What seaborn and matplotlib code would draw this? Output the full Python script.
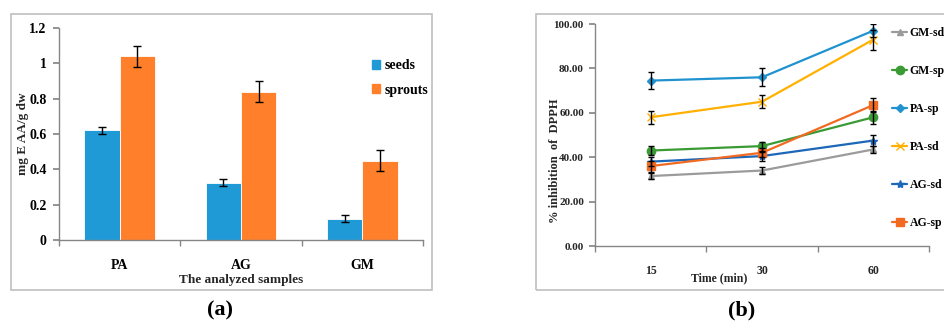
import numpy as np
import pandas as pd
import matplotlib
matplotlib.use("Agg")
import matplotlib.pyplot as plt
import seaborn as sns
from matplotlib.patches import Rectangle
from matplotlib.lines import Line2D

# ---------------- data ----------------
samples = ["PA", "AG", "GM"]
seeds = [0.62, 0.325, 0.12]
seeds_err = [0.02, 0.02, 0.02]
sprouts = [1.04, 0.84, 0.45]
sprouts_err = [0.06, 0.06, 0.06]

times = ["15", "30", "60"]
series_names = ["GM-sd", "GM-sp", "PA-sp", "PA-sd", "AG-sd", "AG-sp"]
gm_sd = [31.5, 34.0, 43.5]
gm_sd_err = [1.5, 1.5, 1.5]
gm_sp = [43.0, 45.0, 58.0]
gm_sp_err = [2.0, 2.0, 3.0]
pa_sp = [74.5, 76.0, 97.0]
pa_sp_err = [4.0, 4.0, 3.0]
pa_sd = [58.0, 65.0, 93.0]
pa_sd_err = [3.0, 3.0, 4.5]
ag_sd = [38.0, 40.5, 47.5]
ag_sd_err = [2.0, 2.0, 2.5]
ag_sp = [36.0, 42.0, 63.5]
ag_sp_err = [2.5, 2.0, 3.0]

sns.set_theme(style="white")
plt.rcParams["font.family"] = ["Liberation Serif", "DejaVu Serif"]
plt.rcParams["font.weight"] = "bold"
plt.rcParams["text.color"] = "black"

W, H = 944, 322
fig = plt.figure(figsize=(W / 100, H / 100), dpi=100)

def fx(px):
    return px / W

def fy(py):
    return 1 - py / H

# panel borders
fig.patches.append(Rectangle((fx(11), fy(290)), fx(421), (290 - 14) / H,
                             transform=fig.transFigure, fill=False,
                             edgecolor="#BFBFBF", lw=1.2))
fig.patches.append(Rectangle((fx(536), fy(290)), fx(420), (290 - 14) / H,
                             transform=fig.transFigure, fill=False,
                             edgecolor="#BFBFBF", lw=1.2))

axis_col = "#868686"
tick_kw = dict(fontsize=10, fontweight="bold", color="black")

# ---------------- panel (a) ----------------
ax1 = fig.add_axes([fx(59), fy(240), fx(423 - 59), (240 - 28) / H])
df_a = pd.DataFrame({
    "sample": samples * 2,
    "value": seeds + sprouts,
    "type": ["seeds"] * 3 + ["sprouts"] * 3,
})
c_seed = "#1F9AD7"
c_sprout = "#FF7F2A"
sns.barplot(data=df_a, x="sample", y="value", hue="type", ax=ax1,
            palette=[c_seed, c_sprout], width=0.58, errorbar=None,
            saturation=1, edgecolor="white", linewidth=0.6, legend=False)
bars = [p for p in ax1.patches if p.get_height() > 0][:6]
errs = seeds_err + sprouts_err
vals = seeds + sprouts
centers = [b.get_x() + b.get_width() / 2 for b in bars]
ax1.errorbar(centers, vals, yerr=errs, fmt="none", ecolor="black",
             elinewidth=1.0, capsize=3, capthick=1.0)
ax1.set_ylim(0, 1.2)
ax1.set_xlim(-0.5, 2.5)
ax1.set_yticks([0, 0.2, 0.4, 0.6, 0.8, 1.0, 1.2])
ax1.set_yticklabels(["0", "0.2", "0.4", "0.6", "0.8", "1", "1.2"], **tick_kw)
ax1.set_xticks([0, 1, 2])
ax1.set_xticklabels(samples, **tick_kw)
ax1.set_xticks([-0.5, 0.5, 1.5, 2.5], minor=True)
ax1.tick_params(axis="x", which="major", length=0, pad=14)
ax1.tick_params(axis="x", which="minor", length=4, color=axis_col, direction="out", bottom=True)
ax1.tick_params(axis="y", length=4, color=axis_col, direction="out", left=True, pad=5)
for s in ["top", "right"]:
    ax1.spines[s].set_visible(False)
for s in ["left", "bottom"]:
    ax1.spines[s].set_color(axis_col)
    ax1.spines[s].set_linewidth(1.0)
ax1.set_xlabel("The analyzed samples", fontsize=9.5, fontweight="bold", labelpad=1)
ax1.set_ylabel("mg E AA/g dw", fontsize=9.5, fontweight="bold")
ax1.yaxis.set_label_coords((29 - 59) / 364, 0.5)
handles_a = [Rectangle((0, 0), 1, 1, color=c_seed), Rectangle((0, 0), 1, 1, color=c_sprout)]
ax1.legend(handles_a, ["seeds", "sprouts"], loc="upper left",
           bbox_to_anchor=((372 - 59) / 364, (240 - 59) / 212), frameon=False,
           handlelength=0.6, handleheight=0.6, handletextpad=0.3,
           labelspacing=0.85, borderpad=0, borderaxespad=0,
           prop={"size": 10, "weight": "bold"})

# ---------------- panel (b) ----------------
ax2 = fig.add_axes([fx(595), fy(246), fx(929 - 595), (246 - 24) / H])
all_vals = [gm_sd, gm_sp, pa_sp, pa_sd, ag_sd, ag_sp]
all_errs = [gm_sd_err, gm_sp_err, pa_sp_err, pa_sd_err, ag_sd_err, ag_sp_err]
colors = ["#9B9B9B", "#3A9B35", "#1F92CF", "#FFB000", "#1C67B8", "#F26A21"]
markers = ["^", "o", "D", "x", "*", "s"]
msizes = [5, 6, 4.5, 6, 6, 6]
for name, v, c, m, ms in zip(series_names, all_vals, colors, markers, msizes):
    d = pd.DataFrame({"time": times, "value": v})
    sns.lineplot(data=d, x="time", y="value", color=c, marker=m,
                 markersize=ms, markeredgewidth=1.0, markeredgecolor=c,
                 linewidth=1.6, ax=ax2, sort=False, errorbar=None)
xpos = np.arange(len(times))
for v, e in zip(all_vals, all_errs):
    ax2.errorbar(xpos, v, yerr=e, fmt="none", ecolor="black",
                 elinewidth=1.0, capsize=2.5, capthick=1.0, zorder=5)
ax2.set_xlim(-0.5, 2.5)
ax2.set_ylim(0, 100)
ax2.set_yticks([0, 20, 40, 60, 80, 100])
ax2.set_yticklabels([f"{t:.2f}" for t in [0, 20, 40, 60, 80, 100]],
                    fontsize=8, fontweight="bold")
ax2.set_xticks([0, 1, 2])
ax2.set_xticklabels(times, fontsize=8.5, fontweight="bold")
ax2.set_xticks([-0.5, 0.5, 1.5, 2.5], minor=True)
ax2.tick_params(axis="x", which="major", length=0, pad=14)
ax2.tick_params(axis="x", which="minor", length=4, color=axis_col, direction="out", bottom=True)
ax2.tick_params(axis="y", length=4, color=axis_col, direction="out", left=True, pad=4)
for s in ["top", "right"]:
    ax2.spines[s].set_visible(False)
for s in ["left", "bottom"]:
    ax2.spines[s].set_color(axis_col)
    ax2.spines[s].set_linewidth(1.0)
ax2.set_xlabel("Time (min)", fontsize=8.5, fontweight="bold")
ax2.xaxis.set_label_coords((719 - 595) / 334, (246 - 272) / 222)
ax2.set_ylabel("% inhibition  of  DPPH", fontsize=9, fontweight="bold")
ax2.yaxis.set_label_coords((561 - 595) / 334, (246 - 161) / 222)
handles_b = [Line2D([0], [0], color=c, marker=m, lw=1.6, markersize=ms,
                    markeredgecolor=c)
             for c, m, ms in zip(colors, markers, msizes)]
ax2.legend(handles_b, series_names, loc="upper left",
           bbox_to_anchor=((892 - 595) / 334, (246 - 27.5) / 222), frameon=False,
           handlelength=1.3, handletextpad=0.2, labelspacing=2.2,
           borderpad=0, borderaxespad=0,
           prop={"size": 8.5, "weight": "bold"})

# panel letters
fig.text(fx(220), fy(310), "(a)", ha="center", va="center", fontsize=16,
         fontweight="bold", color="black")
fig.text(fx(742), fy(310), "(b)", ha="center", va="center", fontsize=16,
         fontweight="bold", color="black")

fig.savefig("out.png", dpi=100)
